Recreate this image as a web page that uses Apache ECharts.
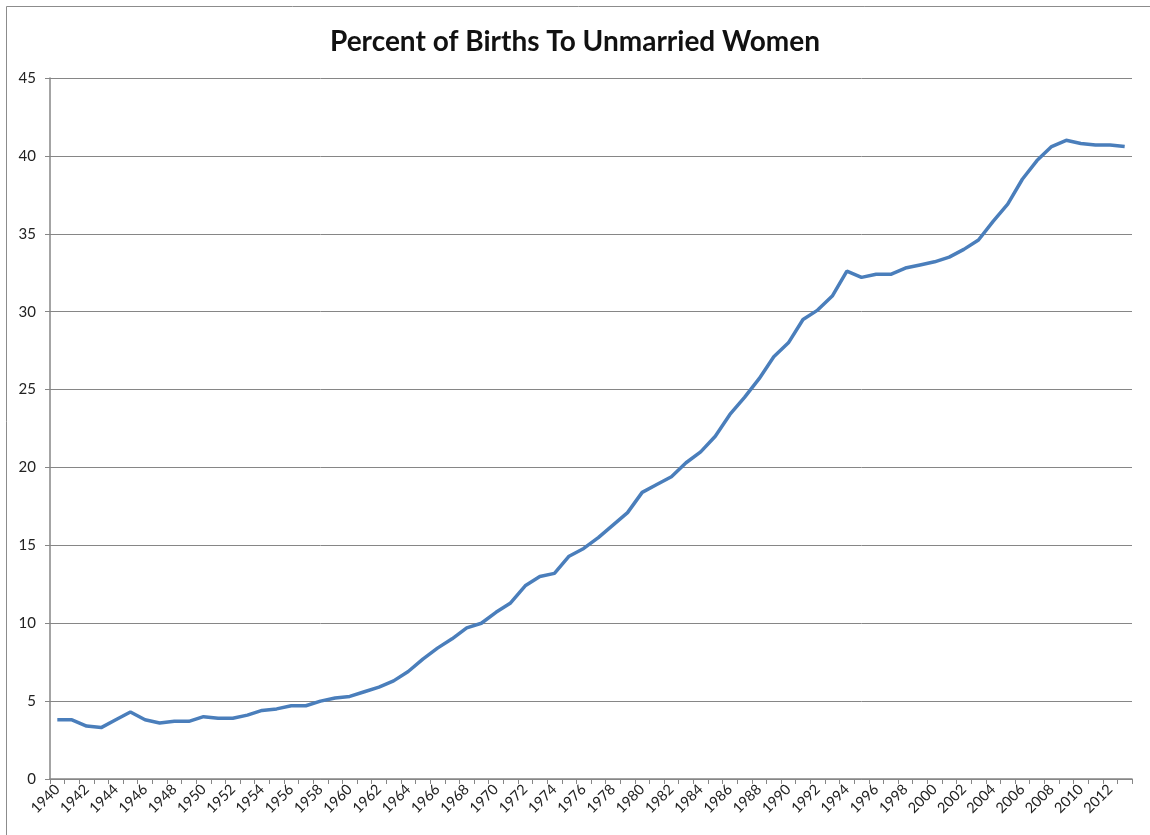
<!DOCTYPE html>
<html>
<head>
<meta charset="utf-8">
<script src="https://cdn.jsdelivr.net/npm/echarts@6/dist/echarts.min.js"></script>
<style>
  html, body { margin: 0; padding: 0; background: #fff; }
  #chart { width: 1150px; height: 835px; }
</style>
</head>
<body>
<div id="chart"></div>
<script>
// years 1940..2013
var years = [];
for (var y = 1940; y <= 2013; y++) years.push(String(y));

// percent of births to unmarried women
var pct = [
  3.8, 3.8, 3.4, 3.3, 3.8, 4.3, 3.8, 3.6, 3.7, 3.7,
  4.0, 3.9, 3.9, 4.1, 4.4, 4.5, 4.7, 4.7, 5.0, 5.2,
  5.3, 5.6, 5.9, 6.3, 6.9, 7.7, 8.4, 9.0, 9.7, 10.0,
  10.7, 11.3, 12.4, 13.0, 13.2, 14.3, 14.8, 15.5, 16.3, 17.1,
  18.4, 18.9, 19.4, 20.3, 21.0, 22.0, 23.4, 24.5, 25.7, 27.1,
  28.0, 29.5, 30.1, 31.0, 32.6, 32.2, 32.4, 32.4, 32.8, 33.0,
  33.2, 33.5, 34.0, 34.6, 35.8, 36.9, 38.5, 39.7, 40.6, 41.0,
  40.8, 40.7, 40.7, 40.6
];

var axisGray = '#868686';
var fontFam = 'Lato, "Open Sans", sans-serif';

var myChart = echarts.init(document.getElementById('chart'));
var option = {
  animation: false,
  backgroundColor: '#fff',
  graphic: [{
    type: 'rect',
    shape: { x: 6.5, y: 6.5, width: 1200, height: 900 },
    style: { fill: 'none', stroke: '#8c8c8c', lineWidth: 1 },
    silent: true
  }],
  title: {
    text: 'Percent of Births To Unmarried Women',
    left: 'center',
    top: 23,
    textStyle: {
      fontFamily: fontFam,
      fontWeight: 'bold',
      fontSize: 28,
      color: '#111'
    }
  },
  grid: { left: 50, right: 18, top: 78, bottom: 56, containLabel: false },
  xAxis: {
    type: 'category',
    data: years,
    boundaryGap: true,
    axisLine: { show: true, lineStyle: { color: axisGray, width: 1.5 } },
    axisTick: { show: true, interval: 0, length: 5, lineStyle: { color: axisGray } },
    axisLabel: {
      interval: 1,
      rotate: 45,
      margin: 8,
      fontFamily: fontFam,
      fontSize: 14.5,
      color: '#222'
    },
    splitLine: { show: false }
  },
  yAxis: {
    type: 'value',
    min: 0,
    max: 45,
    interval: 5,
    axisLine: { show: true, lineStyle: { color: axisGray, width: 1.5 } },
    axisTick: { show: true, length: 5, lineStyle: { color: axisGray } },
    axisLabel: {
      margin: 14,
      fontFamily: fontFam,
      fontSize: 15,
      color: '#222'
    },
    splitLine: { show: true, lineStyle: { color: axisGray, width: 1 } }
  },
  series: [{
    type: 'line',
    data: pct,
    symbol: 'none',
    lineStyle: { color: '#4a7ebb', width: 3.5 },
    itemStyle: { color: '#4a7ebb' }
  }]
};
myChart.setOption(option);
</script>
</body>
</html>
